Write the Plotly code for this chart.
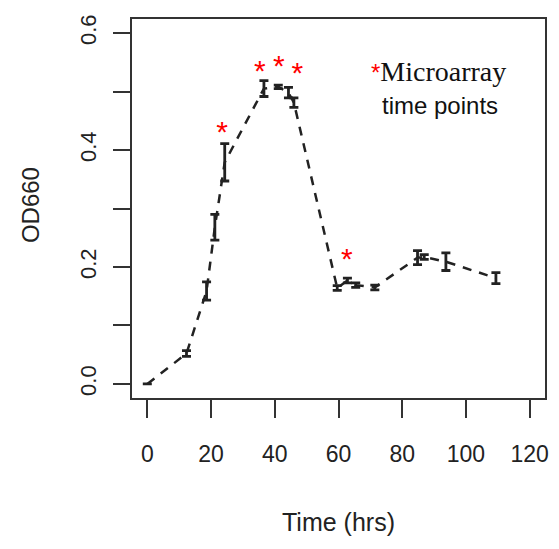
import plotly.graph_objects as go

# Growth curve data
time_hrs = [0, 12.3, 18.6, 21.2, 24.3, 36.6, 41.1, 44.3, 46.0, 59.6, 62.8, 65.4, 71.4, 84.8, 86.9, 93.7, 109.4]
od660 = [0.0, 0.052, 0.159, 0.268, 0.379, 0.505, 0.508, 0.498, 0.481, 0.164, 0.177, 0.169, 0.165, 0.216, 0.217, 0.209, 0.181]
od_err = [0.0, 0.005, 0.0155, 0.022, 0.032, 0.0135, 0.003, 0.009, 0.008, 0.004, 0.004, 0.004, 0.004, 0.012, 0.004, 0.015, 0.0093]

# Microarray time point markers (red asterisks)
micro_x = [23.5, 35.3, 41.3, 47.1, 62.6]
micro_y = [0.426, 0.531, 0.540, 0.527, 0.209]

x_ticks = [0, 20, 40, 60, 80, 100, 120]
y_ticks = [0.0, 0.1, 0.2, 0.3, 0.4, 0.5, 0.6]
y_ticktext = ["0.0", "", "0.2", "", "0.4", "", "0.6"]

SANS = "Liberation Sans"

fig = go.Figure()
fig.add_trace(go.Scatter(
    x=time_hrs, y=od660, mode="lines",
    line=dict(color="#222", width=2.5, dash="9px,8px"),
    error_y=dict(type="data", array=od_err, visible=True, color="#222", thickness=2.8, width=4.5),
    showlegend=False, hoverinfo="skip"))
fig.add_trace(go.Scatter(
    x=micro_x, y=micro_y, mode="text", text=["*"] * len(micro_x),
    textposition="middle center",
    textfont=dict(color="red", size=30, family=SANS),
    showlegend=False, hoverinfo="skip"))

axis_common = dict(showline=True, mirror=True, linecolor="#333", linewidth=2,
                   ticks="outside", tickcolor="#333", tickwidth=2,
                   showgrid=False, zeroline=False)

fig.update_xaxes(range=[-4.8, 124.8], tickvals=x_ticks, ticklen=18, ticklabelstandoff=16,
                 tickfont=dict(family=SANS, size=23, color="#222"), **axis_common)
fig.update_yaxes(range=[-0.024, 0.624], tickvals=y_ticks, ticktext=y_ticktext, ticklen=17,
                 tickangle=-90, ticklabelstandoff=8,
                 tickfont=dict(family=SANS, size=22, color="#222"), **axis_common)

fig.add_annotation(text="Time (hrs)", xref="paper", yref="paper", x=0.50, y=-0.326,
                   showarrow=False, xanchor="center", yanchor="middle",
                   font=dict(family=SANS, size=25, color="#222"))
fig.add_annotation(text="OD660", xref="paper", yref="paper", x=-0.247, y=0.509,
                   showarrow=False, xanchor="center", yanchor="middle", textangle=-90,
                   font=dict(family=SANS, size=24, color="#222"))
fig.add_annotation(text="<span style='color:red;font-family:Liberation Sans;font-size:24px'>*</span>Microarray",
                   xref="paper", yref="paper", x=0.741, y=0.862,
                   showarrow=False, xanchor="center", yanchor="middle",
                   font=dict(family="Liberation Serif", size=28, color="#111"))
fig.add_annotation(text="time points", xref="paper", yref="paper", x=0.746, y=0.773,
                   showarrow=False, xanchor="center", yanchor="middle",
                   font=dict(family=SANS, size=24, color="#111"))

# page body has an 8px margin, so the figure is sized to fit the window exactly
fig.update_layout(width=551, height=541, margin=dict(l=124, r=14, t=7, b=151),
                  plot_bgcolor="white", paper_bgcolor="white")
fig.write_html("out.html")
